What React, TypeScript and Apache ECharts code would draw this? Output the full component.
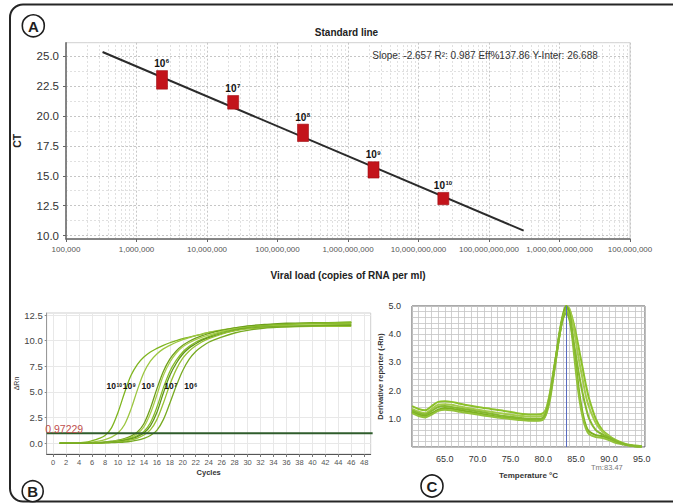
import React, { useEffect, useRef } from "react";
import * as echarts from "echarts";

// ---------- Panel A: standard line ----------
const dilutionExp = ["6", "7", "8", "9", "10"];
const viralLoad = [2.3e6, 2.35e7, 2.3e8, 2.3e9, 2.25e10];
const ctLow = [22.23, 20.56, 17.86, 14.81, 12.58];
const ctHigh = [23.78, 21.7, 19.31, 16.17, 13.61];
const fitLoad = [3.3e5, 3.1e11];
const fitCt = [25.33, 10.42];
const loadTickLabels = [
  "100,000",
  "1,000,000",
  "10,000,000",
  "100,000,000",
  "1,000,000,000",
  "10,000,000,000",
  "100,000,000,000",
  "1,000,000,000,000",
  "100,000,000",
];
const ctTicks = [10, 12.5, 15, 17.5, 20, 22.5, 25];
const ctMinorLines = [11.25, 13.75, 16.25, 18.75, 21.25, 23.75];
const fitText = "Slope: -2.657 R²: 0.987 Eff%137.86 Y-Inter: 26.688";

// ---------- Panel B: amplification plot ----------
const cycles = [1, 3, 5, 6, 7, 8, 9, 10, 11, 12, 13, 14, 15, 16, 17, 18, 19, 20, 21, 22, 23, 24, 26, 28, 30, 33, 36, 40, 46];
const amp10a = [0, 0.02, 0.1, 0.25, 0.45, 0.75, 1.5, 3.0, 4.9, 6.6, 7.7, 8.4, 8.9, 9.25, 9.55, 9.8, 10.0, 10.2, 10.35, 10.5, 10.65, 10.8, 11.0, 11.2, 11.35, 11.5, 11.6, 11.65, 11.7];
const amp9a = [0, 0.01, 0.05, 0.1, 0.2, 0.35, 0.6, 1.0, 1.8, 3.3, 5.2, 6.9, 8.0, 8.7, 9.2, 9.55, 9.85, 10.1, 10.3, 10.5, 10.65, 10.8, 11.05, 11.25, 11.4, 11.55, 11.65, 11.7, 11.75];
const amp8a = [0, 0, 0.02, 0.05, 0.08, 0.12, 0.2, 0.3, 0.45, 0.7, 1.1, 1.9, 3.4, 5.3, 7.0, 8.2, 9.0, 9.55, 9.95, 10.25, 10.5, 10.7, 11.0, 11.25, 11.45, 11.6, 11.7, 11.75, 11.8];
const amp8b = [0, 0, 0.01, 0.03, 0.06, 0.1, 0.16, 0.25, 0.38, 0.58, 0.95, 1.6, 2.9, 4.7, 6.6, 7.9, 8.8, 9.4, 9.8, 10.1, 10.35, 10.55, 10.9, 11.15, 11.3, 11.45, 11.5, 11.55, 11.6];
const amp7a = [0, 0, 0.01, 0.03, 0.05, 0.08, 0.12, 0.2, 0.32, 0.5, 0.75, 1.15, 2.0, 3.5, 5.4, 7.0, 8.1, 8.9, 9.45, 9.85, 10.15, 10.4, 10.8, 11.1, 11.3, 11.5, 11.6, 11.7, 11.8];
const amp7b = [0, 0, 0.01, 0.02, 0.04, 0.07, 0.1, 0.17, 0.27, 0.42, 0.65, 1.0, 1.7, 3.0, 4.9, 6.6, 7.8, 8.7, 9.3, 9.7, 10.05, 10.3, 10.7, 11.0, 11.2, 11.35, 11.4, 11.45, 11.5];
const amp6a = [0, 0, 0.01, 0.02, 0.03, 0.05, 0.08, 0.12, 0.2, 0.32, 0.5, 0.8, 1.3, 2.3, 3.9, 5.7, 7.2, 8.3, 9.0, 9.5, 9.9, 10.2, 10.65, 10.95, 11.15, 11.3, 11.35, 11.4, 11.4];
const amp6b = [0, 0, 0, 0.01, 0.02, 0.03, 0.05, 0.08, 0.12, 0.19, 0.3, 0.48, 0.75, 1.25, 2.3, 3.9, 5.6, 7.1, 8.2, 8.95, 9.45, 9.85, 10.35, 10.75, 11.0, 11.25, 11.35, 11.45, 11.55];
const ampCurves = [amp10a, amp9a, amp8a, amp8b, amp7a, amp7b, amp6a, amp6b];
const ampColors = ["#7fb51f", "#9cc640", "#6e9f1c", "#a9cd4e", "#86bb28", "#5f951a", "#98c234", "#78ab22"];
const threshold = 0.97229;
const cycleTicks = [0, 2, 4, 6, 8, 10, 12, 14, 16, 18, 20, 22, 24, 26, 28, 30, 32, 34, 36, 38, 40, 42, 44, 46, 48];
const rnTicks = [0, 2.5, 5, 7.5, 10, 12.5];
const ampLabelExp = ["10", "9", "8", "7", "6"];
const ampLabelCycle = [9.5, 11.8, 14.7, 18.2, 21.3];
const ampLabelLevel = [5.5, 5.5, 5.5, 5.5, 5.5];

// ---------- Panel C: melt curve ----------
const temps = [60, 61, 62, 63, 64, 65, 66, 67, 68, 70, 72, 74, 76, 78, 79, 80, 80.5, 81, 81.5, 82, 82.5, 83, 83.5, 84, 84.5, 85, 85.5, 86, 86.5, 87, 88, 89, 90, 91, 92, 93, 94, 95];
const melt1 = [1.45, 1.35, 1.3, 1.45, 1.6, 1.62, 1.6, 1.55, 1.5, 1.42, 1.35, 1.28, 1.2, 1.15, 1.15, 1.2, 1.4, 1.9, 2.6, 3.3, 4.0, 4.6, 4.9, 4.85, 4.5, 4.0, 3.4, 2.8, 2.2, 1.7, 1.0, 0.6, 0.4, 0.25, 0.15, 0.08, 0.05, 0.03];
const melt2 = [1.35, 1.25, 1.2, 1.35, 1.5, 1.52, 1.5, 1.45, 1.4, 1.32, 1.25, 1.18, 1.12, 1.08, 1.08, 1.12, 1.35, 1.85, 2.55, 3.3, 4.05, 4.65, 5.0, 4.9, 4.4, 3.7, 3.0, 2.4, 1.8, 1.4, 0.85, 0.55, 0.38, 0.22, 0.12, 0.07, 0.04, 0.02];
const melt3 = [1.25, 1.15, 1.1, 1.2, 1.32, 1.38, 1.36, 1.32, 1.28, 1.2, 1.12, 1.05, 1.0, 0.96, 0.95, 1.0, 1.25, 1.75, 2.5, 3.3, 4.1, 4.7, 5.0, 4.75, 3.9, 2.9, 1.9, 1.2, 0.75, 0.55, 0.42, 0.38, 0.3, 0.2, 0.12, 0.06, 0.03, 0.02];
const melt4 = [1.2, 1.1, 1.05, 1.15, 1.28, 1.32, 1.3, 1.26, 1.22, 1.15, 1.08, 1.02, 0.97, 0.93, 0.93, 0.98, 1.2, 1.65, 2.4, 3.2, 4.0, 4.6, 4.85, 4.6, 3.7, 2.6, 1.7, 1.05, 0.65, 0.45, 0.35, 0.32, 0.25, 0.15, 0.1, 0.05, 0.03, 0.01];
const melt5 = [1.3, 1.2, 1.15, 1.28, 1.42, 1.45, 1.42, 1.38, 1.34, 1.26, 1.18, 1.1, 1.05, 1.0, 1.0, 1.05, 1.3, 1.8, 2.5, 3.25, 4.0, 4.55, 4.75, 4.5, 3.9, 3.2, 2.5, 1.9, 1.4, 1.0, 0.6, 0.45, 0.35, 0.22, 0.12, 0.06, 0.03, 0.02];
const meltCurves = [melt1, melt2, melt3, melt4, melt5];
const meltColors = ["#8cc12a", "#a3cb4a", "#7cb11f", "#93c23a", "#86b92e"];
const tm = 83.47;

const FONT = "'Liberation Sans', Arial, Helvetica, sans-serif";

function txt(x: number, y: number, text: string, font: string, fill: string, align: string, vAlign: string) {
  return {
    type: "text",
    x,
    y,
    style: {
      text,
      fill,
      font,
      textAlign: align,
      textVerticalAlign: vAlign,
      align,
      verticalAlign: vAlign,
    },
  };
}

// power-of-ten label: "10" followed by a small raised exponent, anchored at (cx, bottom)
function powerLabel(cx: number, bottom: number, exp: string, base: number, sup: number) {
  const supW = exp.length * sup * 0.556;
  const shift = supW / 2;
  return {
    type: "group",
    children: [
      txt(cx - shift + 4, bottom, "10", `bold ${base}px ${FONT}`, "#111", "right", "bottom"),
      txt(cx - shift + 4.5, bottom - base * 0.42, exp, `bold ${sup}px ${FONT}`, "#111", "left", "bottom"),
    ],
  };
}

function buildOption(): any {
  const minorX: any[] = [];
  for (let d = 5; d < 13; d++) {
    for (let m = 2; m <= 9; m++) minorX.push({ xAxis: m * Math.pow(10, d) });
  }
  const minorY = ctMinorLines.map((v) => ({ yAxis: v }));

  const series: any[] = [];

  // Panel A grid helper lines
  series.push({
    type: "line",
    xAxisIndex: 0,
    yAxisIndex: 0,
    data: [],
    silent: true,
    z: 0,
    zlevel: 0,
    markLine: {
      silent: true,
      z: 0,
      symbol: ["none", "none"],
      label: { show: false },
      lineStyle: { color: "#e0e0e0", width: 1, type: [2, 2] },
      data: [...minorX, ...minorY],
    },
  });
  // Panel A fit line
  series.push({
    type: "line",
    xAxisIndex: 0,
    yAxisIndex: 0,
    data: fitLoad.map((v, i) => [v, fitCt[i]]),
    showSymbol: false,
    lineStyle: { color: "#2b2b2b", width: 2 },
    z: 5,
  });
  // Panel A markers
  series.push({
    type: "custom",
    xAxisIndex: 0,
    yAxisIndex: 0,
    z: 6,
    data: viralLoad.map((v, i) => [v, ctLow[i], ctHigh[i]]),
    renderItem: (params: any, api: any) => {
      const x = api.value(0);
      const top = api.coord([x, api.value(2)]);
      const bot = api.coord([x, api.value(1)]);
      const w = 11;
      return {
        type: "group",
        children: [
          {
            type: "rect",
            shape: { x: top[0] - w / 2, y: top[1], width: w, height: bot[1] - top[1] },
            style: { fill: "#c3141b", stroke: "#a00f14", lineWidth: 0.6 },
          },
          powerLabel(top[0] + 1, top[1] - 2, dilutionExp[params.dataIndex], 10, 6),
        ],
      };
    },
  });

  // Panel B curves
  ampCurves.forEach((c, k) => {
    series.push({
      type: "line",
      xAxisIndex: 1,
      yAxisIndex: 1,
      data: cycles.map((cy, i) => [cy, c[i]]),
      showSymbol: false,
      smooth: 0.35,
      lineStyle: { color: ampColors[k], width: 1.3 },
    });
  });
  // threshold
  series.push({
    type: "line",
    xAxisIndex: 1,
    yAxisIndex: 1,
    data: [
      [-1, threshold],
      [49.3, threshold],
    ],
    clip: false,
    showSymbol: false,
    lineStyle: { color: "#2f5d2c", width: 2.2 },
    z: 5,
  });
  // threshold value text
  series.push({
    type: "custom",
    xAxisIndex: 1,
    yAxisIndex: 1,
    clip: false,
    z: 6,
    data: [[-1, threshold]],
    renderItem: (params: any, api: any) => {
      const p = api.coord([api.value(0), api.value(1)]);
      return txt(p[0] - 1.5, p[1] + 1, String(threshold), `10.5px ${FONT}`, "#c0504d", "left", "bottom");
    },
  });
  // dilution labels on curves
  series.push({
    type: "custom",
    xAxisIndex: 1,
    yAxisIndex: 1,
    z: 6,
    data: ampLabelCycle.map((c, i) => [c, ampLabelLevel[i]]),
    renderItem: (params: any, api: any) => {
      const p = api.coord([api.value(0), api.value(1)]);
      return powerLabel(p[0], p[1] + 4, ampLabelExp[params.dataIndex], 8.5, 5);
    },
  });

  // Panel C curves
  meltCurves.forEach((c, k) => {
    series.push({
      type: "line",
      xAxisIndex: 2,
      yAxisIndex: 2,
      data: temps.map((t, i) => [t, c[i]]),
      showSymbol: false,
      smooth: 0.3,
      lineStyle: { color: meltColors[k], width: 2 },
      markLine:
        k === 0
          ? {
              silent: true,
              symbol: ["none", "none"],
              label: { show: false },
              lineStyle: { color: "#5a6cc0", width: 1, type: "solid" },
              data: [{ xAxis: tm }],
            }
          : undefined,
    });
  });
  // Tm text
  series.push({
    type: "custom",
    xAxisIndex: 2,
    yAxisIndex: 2,
    clip: false,
    data: [[tm, 0]],
    renderItem: (params: any, api: any) => {
      const p = api.coord([api.value(0), api.value(1)]);
      return txt(p[0] + 25, p[1] + 20, "Tm:" + tm, `7.5px ${FONT}`, "#777", "left", "middle");
    },
  });

  const circle = (cx: number, cy: number, r: number, letter: string) => [
    {
      type: "circle",
      shape: { cx, cy, r },
      style: { fill: "#fff", stroke: "#1e1e1e", lineWidth: 1.6 },
      z: 10,
    },
    { ...txt(cx, cy + 0.5, letter, `bold 15px ${FONT}`, "#1e1e1e", "center", "middle"), z: 11 },
  ];

  return {
    animation: false,
    backgroundColor: "#fff",
    textStyle: { fontFamily: FONT },
    grid: [
      { left: 66, top: 42.7, width: 564, height: 196.3, show: true, borderColor: "#d0d0d0", borderWidth: 1 },
      { left: 46.7, top: 313, width: 324, height: 141, show: true, borderColor: "#cfcfcf", borderWidth: 1 },
      { left: 412, top: 306, width: 233, height: 141, show: true, borderColor: "#555", borderWidth: 1 },
    ],
    xAxis: [
      {
        gridIndex: 0,
        type: "log",
        logBase: 10,
        min: 1e5,
        max: 1e13,
        axisLine: { show: true, onZero: false, lineStyle: { color: "#666", width: 1.5 } },
        axisTick: { show: true, length: 3, lineStyle: { color: "#666" } },
        axisLabel: {
          fontSize: 8,
          color: "#555",
          margin: 6,
          showMinLabel: true,
          showMaxLabel: true,
          formatter: (v: number) => loadTickLabels[Math.round(Math.log10(v)) - 5] ?? "",
        },
        splitLine: { show: true, lineStyle: { color: "#c6c6c6", type: [2, 2] } },
        name: "Viral load (copies of RNA per ml)",
        nameLocation: "middle",
        nameGap: 31,
        nameTextStyle: { fontWeight: "bold", fontSize: 10, color: "#222" },
      },
      {
        gridIndex: 1,
        type: "value",
        min: -1,
        max: 49,
        axisLine: { show: true, onZero: false, lineStyle: { color: "#555", width: 1 } },
        axisTick: { show: true, customValues: cycleTicks, length: 3, lineStyle: { color: "#777" } },
        axisLabel: { customValues: cycleTicks, fontSize: 7.5, color: "#555", margin: 4 },
        splitLine: { show: true, lineStyle: { color: "#e8e8e8" } },
        name: "Cycles",
        nameLocation: "middle",
        nameGap: 14,
        nameTextStyle: { fontWeight: "bold", fontSize: 7.5, color: "#333" },
      },
      {
        gridIndex: 2,
        type: "value",
        min: 60,
        max: 95.5,
        interval: 5,
        axisLine: { show: false, onZero: false },
        axisTick: { show: false },
        axisLabel: {
          fontSize: 9,
          color: "#333",
          margin: 7,
          formatter: (v: number) => (v === 60 ? "" : v.toFixed(1)),
        },
        splitLine: { show: true, lineStyle: { color: "#c4c4c4", width: 0.8 } },
        minorTick: { show: false, splitNumber: 5 },
        minorSplitLine: { show: true, lineStyle: { color: "#c4c4c4", width: 0.8 } },
        name: "Temperature °C",
        nameLocation: "middle",
        nameGap: 24,
        nameTextStyle: { fontWeight: "bold", fontSize: 8, color: "#333" },
      },
    ],
    yAxis: [
      {
        gridIndex: 0,
        type: "value",
        min: 9.72,
        max: 26.11,
        axisLine: { show: true, onZero: false, lineStyle: { color: "#666", width: 1.5 } },
        axisTick: { show: true, customValues: ctTicks, length: 3, lineStyle: { color: "#666" } },
        axisLabel: {
          customValues: ctTicks,
          fontSize: 11.5,
          color: "#333",
          margin: 7,
          formatter: (v: number) => v.toFixed(1),
        },
        splitLine: { show: true, lineStyle: { color: "#c6c6c6", type: [2, 2] } },
        name: "CT",
        nameLocation: "middle",
        nameGap: 44,
        nameRotate: 90,
        nameTextStyle: { fontWeight: "bold", fontSize: 10.5, color: "#222" },
      },
      {
        gridIndex: 1,
        type: "value",
        min: -1.05,
        max: 12.7,
        axisLine: { show: true, onZero: false, lineStyle: { color: "#999", width: 1 } },
        axisTick: { show: true, customValues: rnTicks, length: 2, lineStyle: { color: "#888" } },
        axisLabel: {
          customValues: rnTicks,
          fontSize: 9.5,
          color: "#444",
          margin: 4,
          formatter: (v: number) => v.toFixed(1),
        },
        splitLine: { show: true, lineStyle: { color: "#e8e8e8" } },
        name: "ΔRn",
        nameLocation: "middle",
        nameGap: 18,
        nameRotate: 90,
        nameTextStyle: { fontSize: 7, color: "#333" },
      },
      {
        gridIndex: 2,
        type: "value",
        min: 0,
        max: 5,
        interval: 1,
        axisLine: { show: false, onZero: false },
        axisTick: { show: false },
        axisLabel: {
          fontSize: 9,
          color: "#333",
          margin: 11,
          formatter: (v: number) => (v === 0 ? "" : v.toFixed(1)),
        },
        splitLine: { show: true, lineStyle: { color: "#c4c4c4", width: 0.8 } },
        minorTick: { show: false, splitNumber: 5 },
        minorSplitLine: { show: true, lineStyle: { color: "#c4c4c4", width: 0.8 } },
        name: "Derivative reporter (-Rn)",
        nameLocation: "middle",
        nameGap: 27.5,
        nameRotate: 90,
        nameTextStyle: { fontWeight: "bold", fontSize: 7.5, color: "#333" },
      },
    ],
    graphic: [
      {
        type: "rect",
        shape: { x: 10, y: 4.5, width: 700, height: 497, r: [13, 0, 0, 13] },
        style: { fill: "none", stroke: "#262626", lineWidth: 2 },
        z: 9,
      },
      txt(346.5, 32.5, "Standard line", `bold 10px ${FONT}`, "#222", "center", "middle"),
      { ...txt(485, 55, fitText, `10px ${FONT}`, "#333", "center", "middle"), z: 8 },
      ...circle(33.3, 25.8, 11, "A"),
      ...circle(32.7, 491.2, 10.5, "B"),
      ...circle(432, 486, 11, "C"),
    ],
    series,
  };
}

export default function App() {
  const ref = useRef<HTMLDivElement>(null);
  useEffect(() => {
    if (!ref.current) return;
    const chart = echarts.init(ref.current, null, { renderer: "svg" });
    chart.setOption(buildOption());
    return () => chart.dispose();
  }, []);
  return (
    <div
      ref={ref}
      style={{ position: "absolute", left: 0, top: 0, width: 673, height: 504, background: "#fff" }}
    />
  );
}
